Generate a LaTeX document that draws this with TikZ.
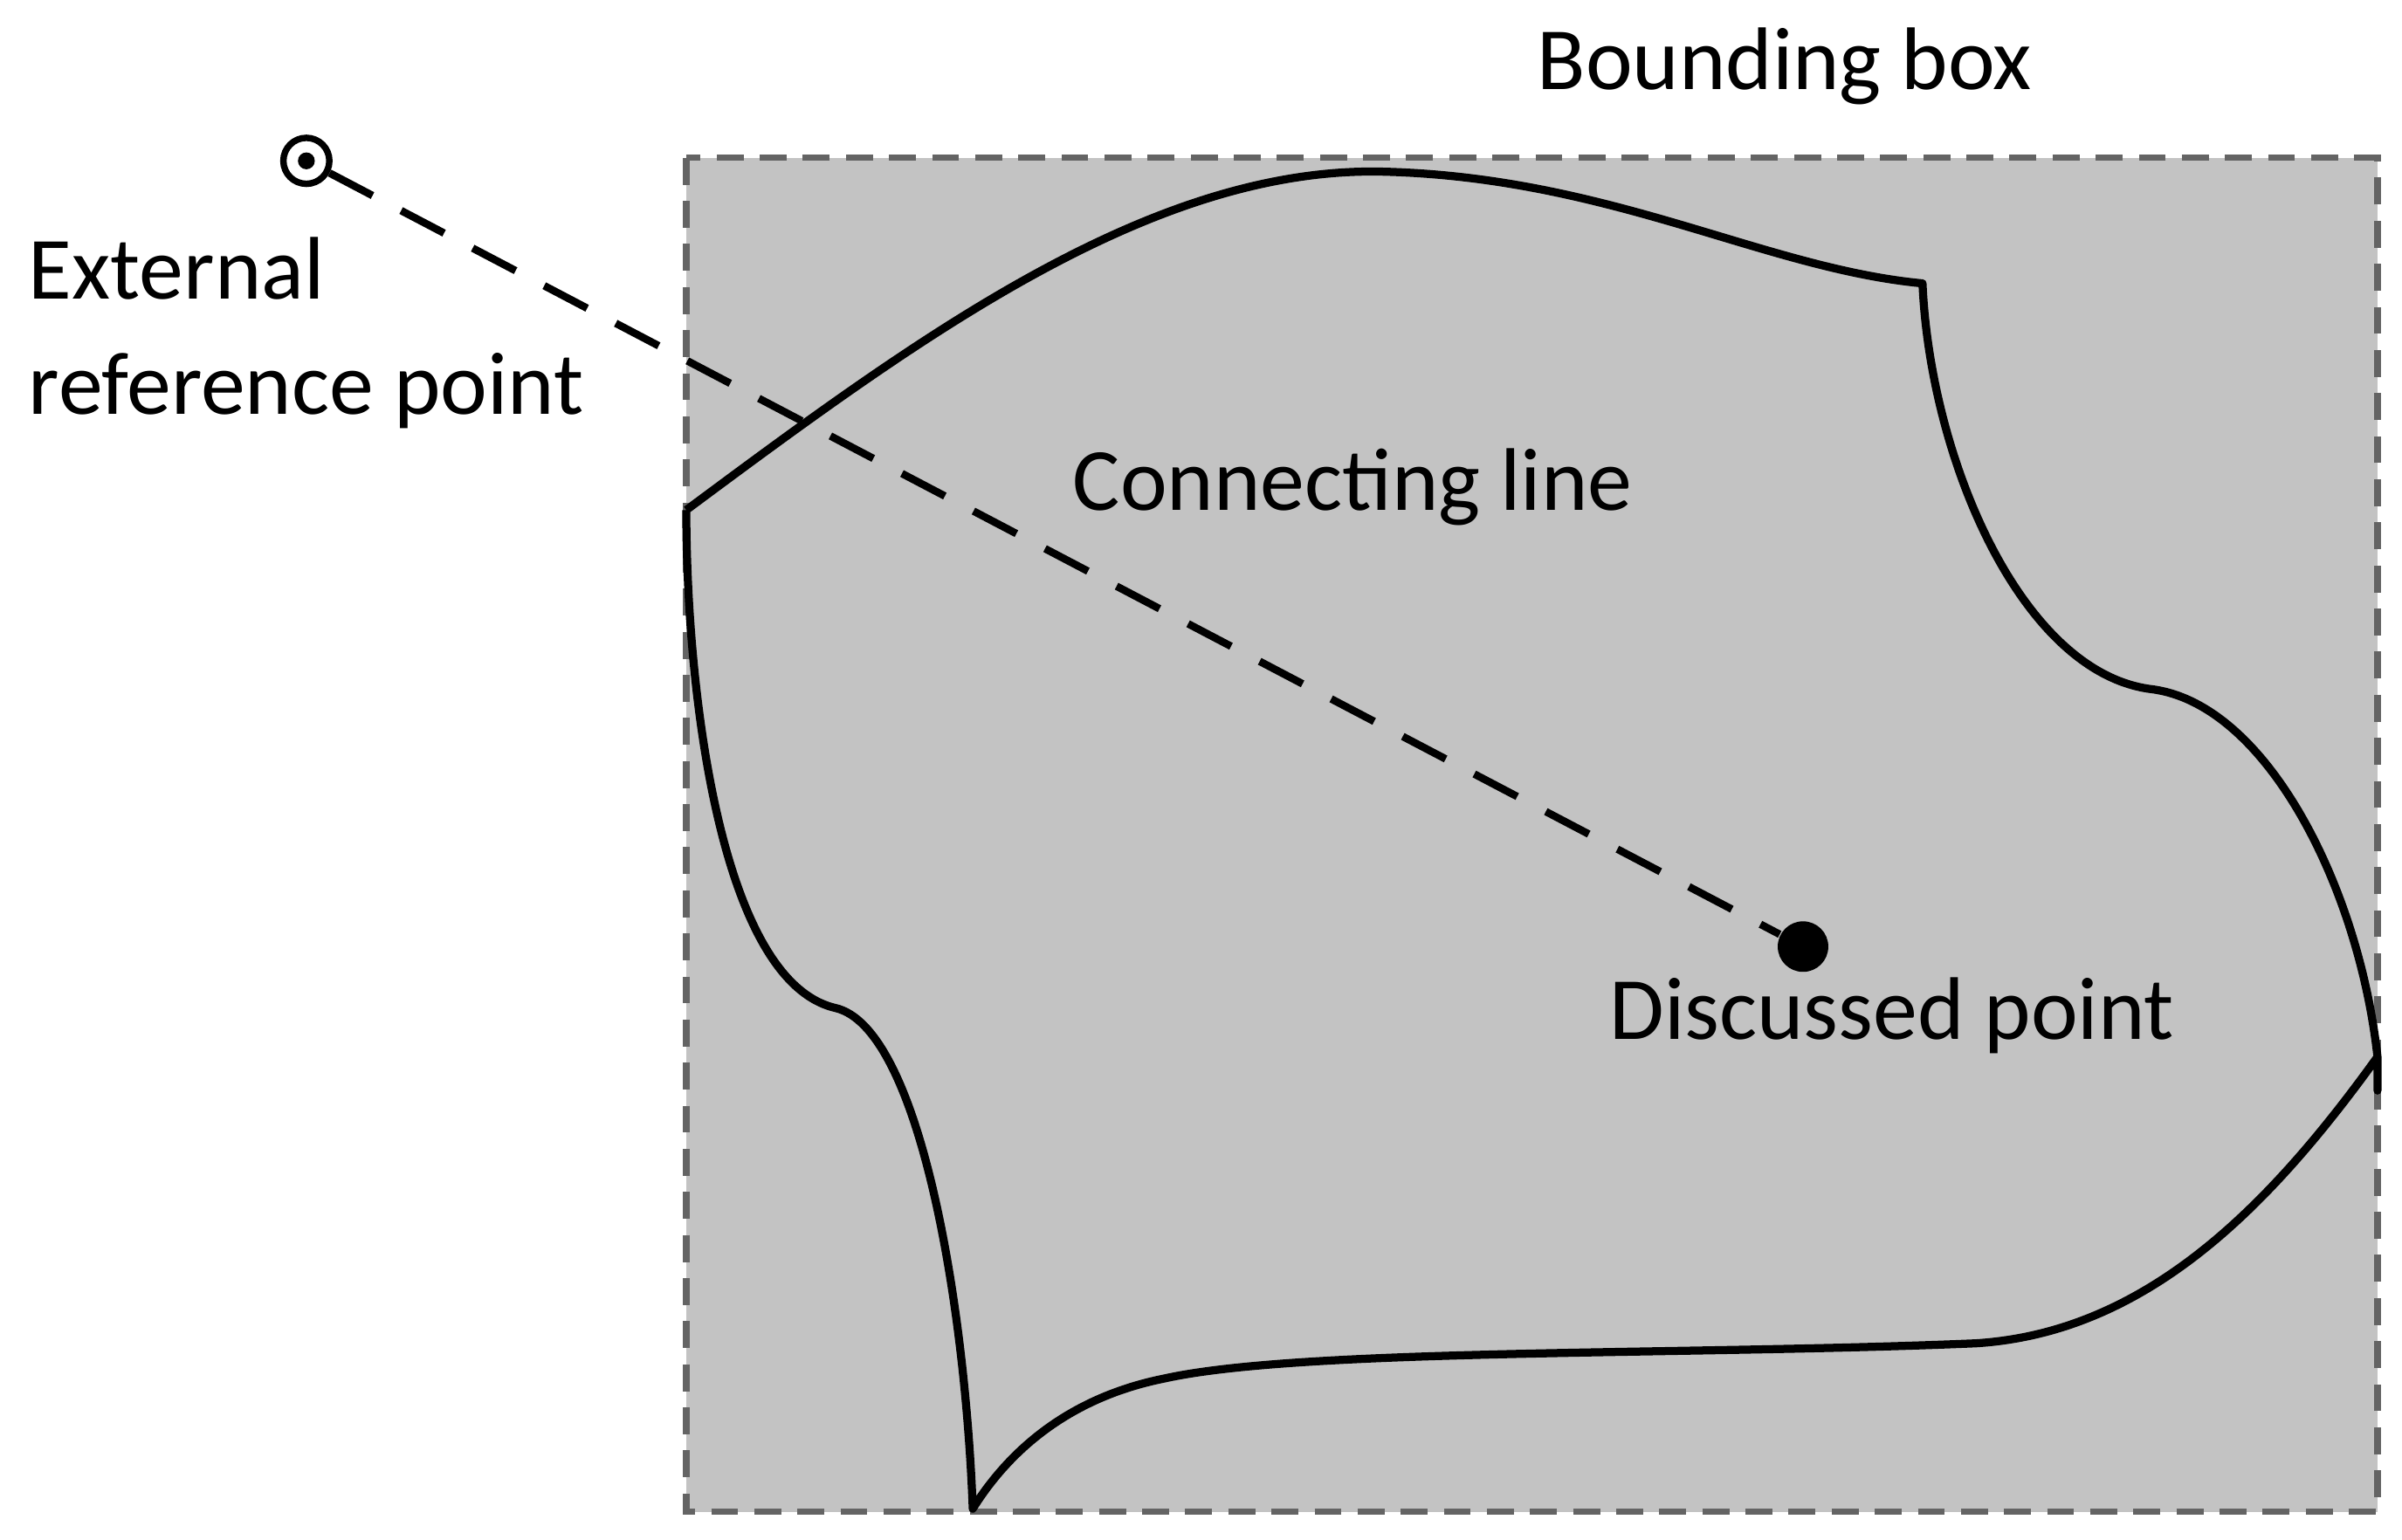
\documentclass[tikz,border=0pt]{standalone}
\usepackage{fontspec}
\setmainfont{Carlito}
\begin{document}
\begin{tikzpicture}[x=0.01cm,y=-0.01cm,
  lbl/.style={font=\fontsize{16.5}{20}\selectfont, inner sep=0pt},
  conn/.style={line width=1.4pt, dash pattern=on 9pt off 6pt}]
\useasboundingbox (0,0) rectangle (1568,1005);
\draw[fill={rgb,255:red,195;green,195;blue,195}, draw={rgb,255:red,100;green,100;blue,100}, line width=1.2pt, dash pattern=on 5pt off 3pt] (448,103) rectangle (1552,987);
\draw[line width=1.5pt, line join=round]
 (448,333) .. controls (600,220) and (750,110) .. (900,112)
 .. controls (1050,115) and (1150,175) .. (1255,185)
 -- (1255,185) .. controls (1260,300) and (1320,440) .. (1405,450)
 .. controls (1480,460) and (1540,580) .. (1552,690)
 -- (1552,712) -- (1552,690) .. controls (1480,790) and (1400,870) .. (1290,877)
 .. controls (1100,885) and (850,880) .. (760,900)
 .. controls (700,912) and (660,945) .. (635,985)
 .. controls (630,850) and (600,670) .. (545,658)
 .. controls (470,640) and (448,450) .. (448,333);
\node[circle, draw, line width=1.2pt, minimum size=0.3cm, inner sep=0pt] (ext) at (200,105) {};
\fill (ext.center) circle (0.055cm);
\node[circle, fill, minimum size=0.33cm, inner sep=0pt] (disc) at (1177,618) {};
\draw[conn] (ext) -- (disc);
\node[lbl] (bb) at (1165,43) {Bounding box};
\node[lbl, anchor=west] (e1) at (18,175) {External};
\node[lbl, anchor=west] (e2) at (18,255) {reference point};
\node[lbl] (cl) at (883,318) {Connecting line};
\node[lbl] (dp) at (1235,663) {Discussed point};
\end{tikzpicture}
\end{document}
